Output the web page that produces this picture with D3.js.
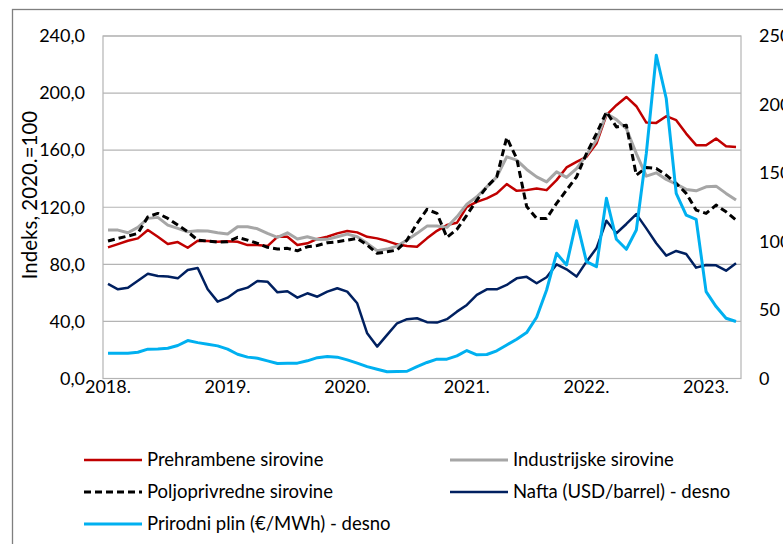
<!DOCTYPE html>
<html>
<head>
<meta charset="utf-8">
<script src="https://cdn.jsdelivr.net/npm/d3@7"></script>
<style>
  body { margin: 0; background: #fff; }
  svg { display: block; font-family: Lato, "Open Sans", sans-serif; }
</style>
</head>
<body>
<svg id="chart" width="783" height="544"></svg>
<script>
// monthly, Jan 2018 - Apr 2023
const months = d3.range(64).map(i => new Date(2018, i, 1));
const yearLabels = ["2018.", "2019.", "2020.", "2021.", "2022.", "2023."];

const leftTicks = [0, 40, 80, 120, 160, 200, 240];
const rightTicks = [0, 50, 100, 150, 200, 250];

const prehrambene = [
  91.9, 94.2, 96.5, 98.2, 104.0, 99.3, 94.2, 95.6, 91.6, 96.5, 96.3, 95.8,
  96.1, 95.8, 93.5, 93.5, 92.8, 99.3, 99.3, 93.5, 94.7, 97.8, 99.3, 101.7,
  103.3, 102.4, 99.3, 98.2, 96.3, 94.0, 92.8, 92.3, 98.2, 103.5, 107.5, 109.1,
  120.3, 123.8, 126.2, 129.7, 136.2, 131.5, 132.0, 133.2, 132.0, 139.0, 147.9, 151.8,
  155.3, 164.6, 184.5, 191.5, 197.3, 190.8, 179.3, 179.1, 183.8, 181.0, 171.6, 163.5,
  163.5, 168.1, 162.8, 162.3
];
const industrijske = [
  104.0, 104.0, 102.1, 105.9, 112.2, 112.9, 107.5, 105.2, 102.8, 103.5, 103.3, 102.1,
  101.2, 106.3, 106.3, 104.9, 101.7, 98.9, 102.1, 97.7, 99.3, 97.4, 97.5, 99.3,
  101.2, 99.3, 94.7, 89.5, 90.7, 92.8, 97.0, 101.7, 106.8, 106.8, 105.9, 113.3,
  122.2, 127.3, 134.3, 141.3, 155.3, 153.0, 146.5, 141.3, 137.8, 144.8, 140.9, 147.1,
  156.5, 167.0, 185.6, 181.4, 175.1, 157.6, 141.8, 144.1, 139.5, 136.2, 132.5, 131.5,
  134.3, 134.8, 129.7, 125.0
];
const poljoprivredne = [
  96.3, 98.2, 99.8, 101.7, 113.3, 115.7, 112.2, 107.5, 102.8, 97.0, 96.3, 95.6,
  95.8, 98.9, 97.0, 94.7, 91.9, 90.7, 91.2, 89.5, 92.3, 93.2, 95.1, 95.8,
  97.0, 98.2, 93.5, 87.7, 88.8, 90.0, 97.0, 108.7, 118.5, 115.7, 98.9, 104.5,
  114.5, 125.0, 134.3, 141.3, 168.8, 154.1, 120.5, 112.2, 112.2, 122.7, 132.0, 141.3,
  157.6, 171.6, 186.8, 176.3, 177.5, 142.5, 147.9, 147.1, 142.5, 136.7, 129.7, 118.0,
  115.7, 121.5, 116.8, 111.0
];
// right axis
const nafta = [
  69.0, 65.1, 66.3, 71.4, 76.5, 74.8, 74.4, 73.1, 79.2, 80.7, 65.1, 56.1,
  59.0, 64.2, 66.3, 71.2, 70.7, 62.9, 63.7, 59.0, 62.2, 59.7, 63.4, 65.9,
  63.4, 54.9, 33.0, 23.3, 31.8, 40.3, 43.3, 44.0, 41.1, 40.8, 43.3, 48.8,
  53.7, 61.0, 65.1, 65.1, 68.3, 73.1, 74.2, 69.5, 73.9, 83.3, 79.7, 74.4,
  85.3, 95.0, 115.2, 106.0, 112.8, 120.0, 109.6, 98.7, 89.7, 93.1, 90.9, 80.9,
  82.9, 82.6, 78.7, 84.1
];
const plin = [
  18.5, 18.5, 18.5, 19.2, 21.4, 21.6, 22.1, 24.1, 27.7, 26.2, 25.0, 23.8,
  21.4, 17.7, 15.6, 14.8, 12.9, 10.9, 11.2, 11.2, 12.9, 15.2, 16.0, 15.6,
  13.6, 11.2, 8.7, 6.8, 4.9, 5.1, 5.3, 8.7, 11.7, 14.1, 14.1, 16.5,
  20.4, 17.3, 17.5, 20.2, 24.5, 28.7, 33.5, 44.7, 64.6, 91.4, 82.9, 115.2,
  85.3, 81.6, 131.5, 101.6, 94.3, 108.4, 164.3, 236.0, 204.4, 135.1, 119.3, 116.2,
  63.4, 52.5, 44.0, 41.6
];

const series = [
  { name: "Prehrambene sirovine", values: prehrambene, axis: "left", color: "#C00000", width: 2.5, dash: null },
  { name: "Industrijske sirovine", values: industrijske, axis: "left", color: "#A6A6A6", width: 3, dash: null },
  { name: "Poljoprivredne sirovine", values: poljoprivredne, axis: "left", color: "#000000", width: 3, dash: "7,4" },
  { name: "Nafta (USD/barrel) - desno", values: nafta, axis: "right", color: "#002060", width: 2.5, dash: null },
  { name: "Prirodni plin (€/MWh) - desno", values: plin, axis: "right", color: "#00B0F0", width: 3, dash: null }
];

const svg = d3.select("#chart");
const plot = { left: 103, right: 741, top: 36, bottom: 378.5 };

// outer frame (runs past the right and bottom edge)
svg.append("rect")
  .attr("x", 12.5).attr("y", 9.5)
  .attr("width", 820).attr("height", 600)
  .attr("fill", "none").attr("stroke", "#7F7F7F").attr("stroke-width", 1.3);

const x = d3.scaleBand().domain(months).range([plot.left, plot.right]);
const xc = d => x(d) + x.bandwidth() / 2;
const yL = d3.scaleLinear().domain([0, 240]).range([plot.bottom, plot.top]);
const yR = d3.scaleLinear().domain([0, 250]).range([plot.bottom, plot.top]);

// grid
svg.append("g").selectAll("line").data(leftTicks).join("line")
  .attr("x1", plot.left).attr("x2", plot.right)
  .attr("y1", d => yL(d)).attr("y2", d => yL(d))
  .attr("stroke", "#B4B4B4").attr("stroke-width", 1.2);

svg.append("rect")
  .attr("x", plot.left).attr("y", plot.top)
  .attr("width", plot.right - plot.left).attr("height", plot.bottom - plot.top)
  .attr("fill", "none").attr("stroke", "#B4B4B4").attr("stroke-width", 1.2);

// left axis
const fmt = d => d3.format(".1f")(d).replace(".", ",");
svg.append("g").selectAll("text").data(leftTicks).join("text")
  .attr("x", 85).attr("y", d => yL(d))
  .attr("dy", "0.35em").attr("text-anchor", "end")
  .attr("font-size", 18).attr("fill", "#000")
  .text(fmt);

// right axis
svg.append("g").selectAll("text").data(rightTicks).join("text")
  .attr("x", 759).attr("y", d => yR(d))
  .attr("dy", "0.35em").attr("text-anchor", "start")
  .attr("font-size", 18).attr("fill", "#000")
  .text(d => d);

// x axis labels at January of each year
svg.append("g").selectAll("text").data(yearLabels).join("text")
  .attr("x", (d, i) => xc(months[i * 12]))
  .attr("y", 393)
  .attr("text-anchor", "middle")
  .attr("font-size", 18).attr("fill", "#000")
  .text(d => d);

// y title
svg.append("text")
  .attr("transform", "translate(37,195) rotate(-90)")
  .attr("text-anchor", "middle")
  .attr("font-size", 20.5).attr("fill", "#000")
  .text("Indeks, 2020.=100");

// lines
series.forEach(s => {
  const yS = s.axis === "left" ? yL : yR;
  const line = d3.line().x((d, i) => xc(months[i])).y(d => yS(d));
  svg.append("path")
    .datum(s.values)
    .attr("d", line)
    .attr("fill", "none")
    .attr("stroke", s.color)
    .attr("stroke-width", s.width)
    .attr("stroke-linejoin", "round")
    .attr("stroke-dasharray", s.dash);
});

// legend
const legendPos = [
  { x: 84, y: 460 }, { x: 450, y: 460 },
  { x: 84, y: 492 }, { x: 450, y: 492 },
  { x: 84, y: 524 }
];
const lg = svg.append("g").selectAll("g").data(series).join("g")
  .attr("transform", (d, i) => `translate(${legendPos[i].x},${legendPos[i].y})`);
lg.append("line")
  .attr("x1", 0).attr("x2", 58).attr("y1", 0).attr("y2", 0)
  .attr("stroke", d => d.color)
  .attr("stroke-width", d => d.width)
  .attr("stroke-dasharray", d => d.dash);
lg.append("text")
  .attr("x", 63).attr("y", 0).attr("dy", "0.35em")
  .attr("font-size", 18.5).attr("fill", "#000")
  .text(d => d.name);
</script>
</body>
</html>
